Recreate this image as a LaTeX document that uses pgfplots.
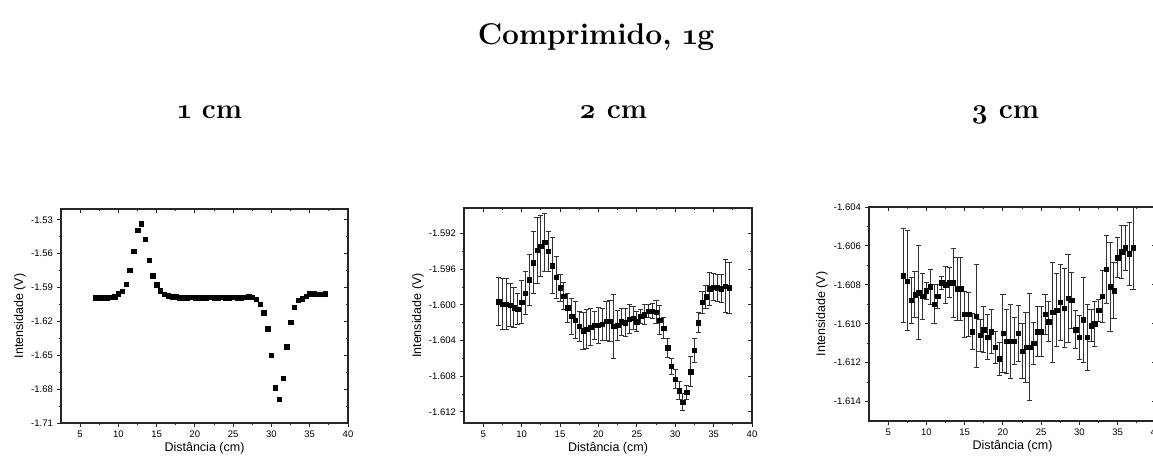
\documentclass[border=0pt]{standalone}
\usepackage{pgfplots}
\pgfplotsset{compat=1.18}
\usepackage{pgfplotstable}
\usepackage{fontspec}
\newfontfamily\arial{Liberation Sans}
\newfontfamily\titlefont[Numbers=OldStyle]{Latin Modern Roman}

\pgfplotstableread{
x y
7 -1.5990
7.5 -1.5990
8 -1.5990
8.5 -1.5990
9 -1.5988
9.5 -1.5980
10 -1.5956
10.5 -1.5933
11 -1.5873
11.5 -1.5749
12 -1.5578
12.5 -1.5392
13 -1.5335
13.5 -1.5471
14 -1.5660
14.5 -1.5794
15 -1.5876
15.5 -1.5930
16 -1.5959
16.5 -1.5974
17 -1.5980
17.5 -1.5982
18 -1.5989
18.5 -1.5989
19 -1.5990
19.5 -1.5988
20 -1.5990
20.5 -1.5991
21 -1.5990
21.5 -1.5989
22 -1.5988
22.5 -1.5989
23 -1.5990
23.5 -1.5988
24 -1.5989
24.5 -1.5989
25 -1.5988
25.5 -1.5990
26 -1.5989
26.5 -1.5985
27 -1.5983
27.5 -1.5985
28 -1.6003
28.5 -1.6050
29 -1.6122
29.5 -1.6264
30 -1.6500
30.5 -1.6787
31 -1.6890
31.5 -1.6704
32 -1.6426
32.5 -1.6205
33 -1.6077
33.5 -1.6012
34 -1.5998
34.5 -1.5977
35 -1.5956
35.5 -1.5956
36 -1.5958
36.5 -1.5958
37 -1.5956
}\dataA

\pgfplotstableread{
x y e
7 -1.59964 0.00266
7.5 -1.59990 0.00290
8 -1.59993 0.00287
8.5 -1.60002 0.00243
9 -1.60030 0.00221
9.5 -1.60046 0.00178
10 -1.59970 0.00241
10.5 -1.59870 0.00240
11 -1.59720 0.00290
11.5 -1.59530 0.00348
12 -1.59390 0.00371
12.5 -1.59340 0.00346
13 -1.59297 0.00326
13.5 -1.59400 0.00225
14 -1.59560 0.00313
14.5 -1.59690 0.00234
15 -1.59810 0.00154
15.5 -1.59900 0.00155
16 -1.60030 0.00163
16.5 -1.60130 0.00206
17 -1.60170 0.00210
17.5 -1.60240 0.00170
18 -1.60290 0.00210
18.5 -1.60270 0.00215
19 -1.60250 0.00210
19.5 -1.60230 0.00161
20 -1.60230 0.00204
20.5 -1.60220 0.00178
21 -1.60180 0.00215
21.5 -1.60180 0.00225
22 -1.60240 0.00356
22.5 -1.60230 0.00172
23 -1.60190 0.00150
23.5 -1.60200 0.00159
24 -1.60160 0.00159
24.5 -1.60150 0.00131
25 -1.60190 0.00112
25.5 -1.60130 0.00075
26 -1.60110 0.00112
26.5 -1.60070 0.00075
27 -1.60070 0.00088
27.5 -1.60080 0.00131
28 -1.60170 0.00163
28.5 -1.60260 0.00116
29 -1.60480 0.00109
29.5 -1.60690 0.00094
30 -1.60830 0.00103
30.5 -1.60960 0.00103
31 -1.61090 0.00094
31.5 -1.60980 0.00075
32 -1.60750 0.00169
32.5 -1.60510 0.00131
33 -1.60200 0.00112
33.5 -1.59970 0.00122
34 -1.59910 0.00131
34.5 -1.59820 0.00187
35 -1.59800 0.00155
35.5 -1.59810 0.00150
36 -1.59820 0.00155
36.5 -1.59790 0.00300
37 -1.59810 0.00281
}\dataB

\pgfplotstableread{
x y e
7 -1.60753 0.00242
7.5 -1.60780 0.00257
8 -1.60880 0.00118
8.5 -1.60850 0.00118
9 -1.60840 0.00243
9.5 -1.60860 0.00116
10 -1.60830 0.00043
10.5 -1.60810 0.00090
11 -1.60900 0.00100
11.5 -1.60860 0.00060
12 -1.60790 0.00032
12.5 -1.60800 0.00094
13 -1.60790 0.00077
13.5 -1.60790 0.00176
14 -1.60820 0.00163
14.5 -1.60820 0.00161
15 -1.60950 0.00118
15.5 -1.60950 0.00113
16 -1.61040 0.00093
16.5 -1.60960 0.00264
17 -1.61060 0.00083
17.5 -1.61030 0.00117
18 -1.61070 0.00116
18.5 -1.61040 0.00112
19 -1.61120 0.00082
19.5 -1.61180 0.00086
20 -1.61050 0.00202
20.5 -1.61090 0.00163
21 -1.61090 0.00190
21.5 -1.61090 0.00120
22 -1.61050 0.00146
22.5 -1.61140 0.00142
23 -1.61120 0.00180
23.5 -1.61120 0.00274
24 -1.61100 0.00108
24.5 -1.61040 0.00129
25 -1.61040 0.00129
25.5 -1.60950 0.00103
26 -1.60990 0.00103
26.5 -1.60940 0.00257
27 -1.60930 0.00189
27.5 -1.60890 0.00197
28 -1.60920 0.00202
28.5 -1.60870 0.00227
29 -1.60880 0.00142
29.5 -1.61030 0.00098
30 -1.61070 0.00112
30.5 -1.60980 0.00219
31 -1.61070 0.00170
31.5 -1.61010 0.00083
32 -1.61000 0.00116
32.5 -1.60930 0.00057
33 -1.60860 0.00135
33.5 -1.60720 0.00175
34 -1.60810 0.00229
34.5 -1.60830 0.00144
35 -1.60660 0.00103
35.5 -1.60630 0.00135
36 -1.60610 0.00116
36.5 -1.60640 0.00163
37 -1.60610 0.00213
}\dataC

\pgfplotsset{
  frame/.style={
    scale only axis, width=287pt, height=214pt,
    xmin=2.5, xmax=40,
    xtick={5,10,15,20,25,30,35,40},
    minor x tick num=1, minor y tick num=1,
    axis line style={line width=1.1pt, black!85},
    every tick/.style={line width=0.9pt, black!85},
    major tick length=3.6pt, minor tick length=2.4pt,
    scaled y ticks=false, scaled x ticks=false,
    tick label style={font=\fontsize{9.5}{9.5}\arial},
    /pgf/number format/assume math mode=true,
    clip=false,
  },
  base/.style={frame, tick align=outside, xtick pos=bottom, ytick pos=left,
    label style={font=\fontsize{12.5}{12.5}\arial},
    xlabel={Distância (cm)},
    ylabel={Intensidade (V)},
    xlabel style={at={(axis description cs:0.5,0)}, anchor=center, yshift=-25pt},
    yticklabel style={xshift=-1pt},
    xticklabel style={yshift=-0.5pt},
  },
  over/.style={frame, tick align=inside, xtick pos=top, ytick pos=right,
    xticklabels={}, yticklabels={}},
  pts/.style={only marks, mark=square*, mark size=2.2pt, black, mark options={fill=black}},
  errs/.style={only marks, mark=square*, mark size=2.2pt, black, mark options={fill=black},
    error bars/.cd, y dir=both, y explicit,
    error mark=|,
    error bar style={line width=0.9pt, black!80},
    error mark options={line width=0.9pt, mark size=2.6pt, black!80}},
}

\begin{document}
\begin{tikzpicture}
\useasboundingbox (0,0) rectangle (1153pt,459pt);

% titles
\node[anchor=base, font=\fontsize{30}{30}\titlefont\bfseries] at (596pt,414pt) {Comprimido, 1g};
\node[anchor=base, font=\fontsize{28}{28}\titlefont\bfseries] at (210pt,341pt) {1 cm};
\node[anchor=base, font=\fontsize{28}{28}\titlefont\bfseries] at (613pt,341pt) {2 cm};
\node[anchor=base, font=\fontsize{28}{28}\titlefont\bfseries] at (1005pt,341pt) {3 cm};

% plot 1
\begin{axis}[base, at={(61pt,36pt)}, anchor=south west,
  ymin=-1.71, ymax=-1.5205,
  ytick={-1.71,-1.68,-1.65,-1.62,-1.59,-1.56,-1.53},
  yticklabel style={/pgf/number format/.cd, fixed, fixed zerofill, precision=2},
  ylabel style={at={(axis description cs:-0.1429,0.5)}, anchor=center}]
\addplot[pts] table[x=x,y=y] {\dataA};
\end{axis}
\begin{axis}[over, at={(61pt,36pt)}, anchor=south west,
  ymin=-1.71, ymax=-1.5205,
  ytick={-1.71,-1.68,-1.65,-1.62,-1.59,-1.56,-1.53}]
\end{axis}

% plot 2
\begin{axis}[base, at={(464pt,36pt)}, anchor=south west, width=288pt, height=215pt,
  ymin=-1.61324, ymax=-1.58915,
  ytick={-1.612,-1.608,-1.604,-1.600,-1.596,-1.592},
  yticklabel style={/pgf/number format/.cd, fixed, fixed zerofill, precision=3},
  ylabel style={at={(axis description cs:-0.16,0.5)}, anchor=center}]
\addplot[errs] table[x=x,y=y,y error=e] {\dataB};
\end{axis}
\begin{axis}[over, at={(464pt,36pt)}, anchor=south west, width=288pt, height=215pt,
  ymin=-1.61324, ymax=-1.58915,
  ytick={-1.612,-1.608,-1.604,-1.600,-1.596,-1.592}]
\end{axis}

% plot 3
\begin{axis}[base, at={(869pt,38pt)}, anchor=south west,
  ymin=-1.615, ymax=-1.604,
  ytick={-1.614,-1.612,-1.610,-1.608,-1.606,-1.604},
  yticklabel style={/pgf/number format/.cd, fixed, fixed zerofill, precision=3},
  ylabel style={at={(axis description cs:-0.164,0.5)}, anchor=center}]
\addplot[errs] table[x=x,y=y,y error=e] {\dataC};
\end{axis}
\begin{axis}[over, at={(869pt,38pt)}, anchor=south west,
  ymin=-1.615, ymax=-1.604,
  ytick={-1.614,-1.612,-1.610,-1.608,-1.606,-1.604}]
\end{axis}
\end{tikzpicture}
\end{document}
